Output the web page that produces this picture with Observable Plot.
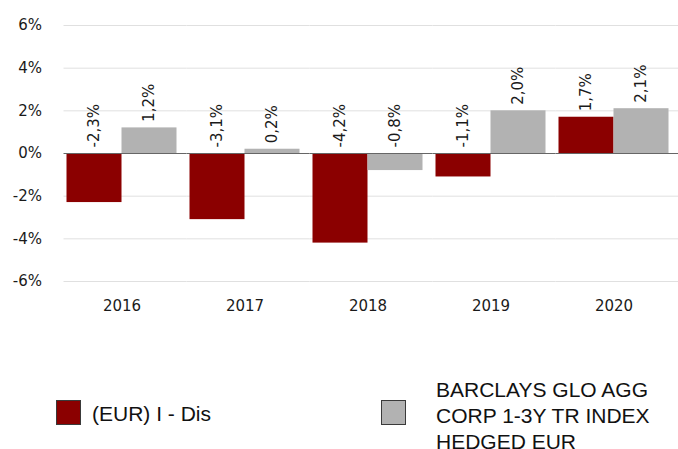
<!DOCTYPE html>
<html>
<head>
<meta charset="utf-8">
<script src="https://cdn.jsdelivr.net/npm/d3@7"></script>
<script src="https://cdn.jsdelivr.net/npm/@observablehq/plot@0.6"></script>
<style>
  html, body { margin: 0; padding: 0; background: #fff; }
  #wrap { position: relative; width: 678px; height: 449px; overflow: hidden; }
  #chart { position: absolute; left: 0; top: 0; }
  .sw { position: absolute; width: 25px; height: 25px; box-sizing: border-box; border: 1px solid #3a3a3a; }
  .lt { position: absolute; font-family: "Liberation Sans", Arial, sans-serif; font-size: 21px; line-height: 15px; height: 15px; color: #111; white-space: nowrap; }
</style>
</head>
<body>
<div id="wrap">
  <div id="chart"></div>
  <div class="sw" id="sw0" style="left:56px; top:400px;"></div>
  <div class="sw" id="sw1" style="left:381px; top:400px;"></div>
</div>
<script>
const years = ["2016", "2017", "2018", "2019", "2020"];
const seriesNames = ["(EUR) I - Dis", "BARCLAYS GLO AGG CORP 1-3Y TR INDEX HEDGED EUR"];
const legendLines = [["(EUR) I - Dis"], ["BARCLAYS GLO AGG", "CORP 1-3Y TR INDEX", "HEDGED EUR"]];
const fundValues = [-2.3, -3.1, -4.2, -1.1, 1.7];
const indexValues = [1.2, 0.2, -0.8, 2.0, 2.1];
const yTicks = [-6, -4, -2, 0, 2, 4, 6];
const colors = ["#8b0000", "#b2b2b2"];

const data = [];
years.forEach((y, i) => {
  data.push({year: y, series: seriesNames[0], value: fundValues[i]});
  data.push({year: y, series: seriesNames[1], value: indexValues[i]});
});
const fmt = v => v.toFixed(1).replace(".", ",") + "%";

const chart = Plot.plot({
  width: 678,
  height: 321,
  marginLeft: 59.5,
  marginRight: 3.5,
  marginTop: 25,
  marginBottom: 40,
  style: {fontFamily: "DejaVu Sans", fontSize: "15px", color: "#1a1a1a", background: "transparent"},
  fx: {domain: years, padding: 0, label: null, tickSize: 0, tickPadding: 19},
  x: {domain: seriesNames, paddingInner: 0, paddingOuter: 0.1, axis: null},
  y: {domain: [-6, 6], ticks: yTicks, tickFormat: d => d + "%", label: null, tickSize: 0, tickPadding: 18.5},
  color: {domain: seriesNames, range: colors},
  marks: [
    Plot.ruleY(yTicks.filter(d => d !== 0), {stroke: "#e0e0e0", strokeWidth: 1, dx: 3.5}),
    Plot.barY(data, {fx: "year", x: "series", y: "value", fill: "series"}),
    Plot.ruleY([0], {stroke: "#666666", strokeWidth: 1, dx: 3.5}),
    Plot.text(data, {
      fx: "year", x: "series", y: d => Math.max(d.value, 0),
      text: d => fmt(d.value), rotate: -90, textAnchor: "start", dy: -6,
      fill: "#1a1a1a", fontSize: 15
    })
  ]
});
const wrap = document.getElementById("wrap");
document.getElementById("chart").appendChild(chart);

document.getElementById("sw0").style.background = colors[0];
document.getElementById("sw1").style.background = colors[1];

function addLine(txt, left, top) {
  const d = document.createElement("div");
  d.className = "lt";
  d.style.left = left + "px";
  d.style.top = top + "px";
  d.textContent = txt;
  wrap.appendChild(d);
}
legendLines[0].forEach((t, i) => addLine(t, 92, 406.2 + i * 26));
legendLines[1].forEach((t, i) => addLine(t, 436, 381.7 + i * 26));
</script>
</body>
</html>
